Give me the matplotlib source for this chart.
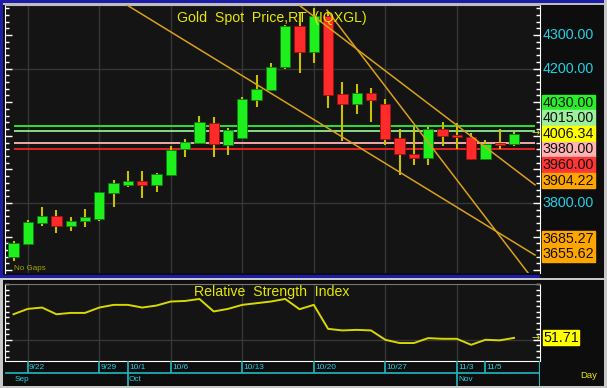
import numpy as np
import pandas as pd
import matplotlib
matplotlib.use("Agg")
import matplotlib.pyplot as plt
from matplotlib.patches import Rectangle
from matplotlib.ticker import MultipleLocator, FixedLocator
from matplotlib import font_manager

# ============================
# Data
# ============================
dates = pd.bdate_range("2025-09-19", "2025-11-07")

opens  = [3638, 3678, 3741, 3761, 3732, 3746, 3751, 3829, 3854, 3865, 3854, 3883,
          3960, 3979, 4039, 3973, 3993, 4107, 4136, 4204, 4327, 4250, 4357, 4124,
          4095, 4126, 4095, 3993, 3945, 3933, 4019, 4002, 3997, 3930, 3980, 3975]
highs  = [3688, 3749, 3789, 3779, 3759, 3782, 3834, 3868, 3895, 3895, 3890, 3970,
          3990, 4059, 4055, 4022, 4116, 4180, 4216, 4330, 4365, 4381, 4370, 4160,
          4153, 4143, 4109, 4019, 4027, 4027, 4042, 4037, 4007, 3987, 4019, 4010]
lows   = [3628, 3676, 3732, 3712, 3718, 3728, 3746, 3789, 3849, 3816, 3832, 3880,
          3936, 3976, 3938, 3943, 3990, 4087, 4133, 4198, 4186, 4218, 4084, 3986,
          4064, 4042, 3973, 3883, 3913, 3913, 3970, 3960, 3928, 3928, 3960, 3970]
closes = [3682, 3744, 3761, 3732, 3747, 3757, 3832, 3859, 3865, 3854, 3885, 3957,
          3982, 4040, 3975, 4017, 4109, 4139, 4206, 4327, 4250, 4358, 4121, 4095,
          4126, 4107, 3990, 3945, 3933, 4019, 4000, 3997, 3930, 3976, 3974, 4006.34]

rsi = [72.9, 77.7, 78.9, 72.9, 74.1, 74.1, 78.9, 81.3, 81.3, 78.9, 80.7, 84.3,
       84.8, 86.6, 75.4, 77.7, 81.3, 82.8, 84.3, 86.6, 77.4, 81.3, 59.8, 58.4,
       58.9, 58.4, 50.0, 47.1, 47.1, 51.5, 50.9, 50.9, 45.5, 50.0, 49.5, 51.71]

# horizontal price levels and their colours
level_values = [4030.00, 4015.00, 3980.00, 3960.00]
level_lines  = ["#2ee02e", "#86dc86", "#f2aaaa", "#e62020"]
level_boxes  = ["#2aee2a", "#9cf09c", "#ffb4b4", "#ff3434"]

# trend lines: (bar index, price) start and end
trend_start_x = [7.94, 21.92, 20.03]
trend_start_p = [4389, 4374, 4387]
trend_end_x   = [36.47, 35.98, 36.47]
trend_end_p   = [3645, 3592, 3854]
trend_labels  = [3655.62, 3685.27, 3904.22]

price_ticks = [3700, 3800, 3900, 4000, 4100, 4200, 4300]
day_ticks   = ["2025-09-22", "2025-09-29", "2025-10-01", "2025-10-06", "2025-10-13",
               "2025-10-20", "2025-10-27", "2025-11-03", "2025-11-05"]
month_ticks = ["2025-09-19", "2025-10-01", "2025-11-03"]
month_names = ["Sep", "Oct", "Nov"]

# ============================
# Style
# ============================
W, H = 607, 388
BG = "#141414"
GRID = "#363636"
CYAN_TXT = "#22d0e4"
CYAN_LINE = "#1fb8c0"
YELLOW = "#e6e600"

names = {f.name for f in font_manager.fontManager.ttflist}
NARROW = "Liberation Sans Narrow" if "Liberation Sans Narrow" in names else "Liberation Sans"
FS = 1.0 if NARROW == "Liberation Sans Narrow" else 0.85
LABEL_FS = 11.5 if NARROW == "Liberation Sans Narrow" else 10.3
plt.rcParams["font.family"] = [NARROW, "DejaVu Sans"]

fig = plt.figure(figsize=(W / 100, H / 100), dpi=100, facecolor="#0d0d0d")


def axes_px(x0, y0, x1, y1):
    return fig.add_axes([x0 / W, 1 - y1 / H, (x1 - x0) / W, (y1 - y0) / H])


def rect_px(x0, y0, x1, y1, color):
    fig.add_artist(Rectangle((x0 / W, 1 - y1 / H), (x1 - x0) / W, (y1 - y0) / H,
                             transform=fig.transFigure, color=color, lw=0))


def px_to_idx(x):
    return (x - 13.5) / 14.3


idx = np.arange(len(dates))
o, h, l, c = map(np.array, (opens, highs, lows, closes))
XLIM = (px_to_idx(5), px_to_idx(540))
PLIM = (3591.7, 4389.3)
RLIM = (31, 100)
mondays = idx[dates.weekday == 0]

# ============================
# Main price panel
# ============================
ax = axes_px(5, 5, 540, 273)
ax.set_facecolor(BG)
ax.set_xlim(*XLIM)
ax.set_ylim(*PLIM)

for m in mondays:
    ax.axvline(m, color=GRID, lw=1, zorder=0.5)
for g in (3800, 4200):
    ax.axhline(g, color=GRID, lw=1, zorder=0.5)

ax.hlines(level_values, idx[0], idx[-1] + 1.5, colors=level_lines, lw=1.4, zorder=1.5)

for x0, p0, x1, p1 in zip(trend_start_x, trend_start_p, trend_end_x, trend_end_p):
    ax.plot([x0, x1], [p0, p1], color="#d9a01a", lw=1.1, zorder=4)

up = c >= o
ax.vlines(idx, l, h, color="#c8c000", lw=1.5, zorder=2)
ax.bar(idx, np.maximum(np.abs(c - o), 2), bottom=np.minimum(o, c), width=0.72,
       color=np.where(up, "#1ef01e", "#ff2a2a"),
       edgecolor=np.where(up, "#0b7a0b", "#a01010"), linewidth=0.6, zorder=3)

ax.text(XLIM[1] - 0.6, c[-1], "→", color=YELLOW, fontsize=7, va="center",
        ha="left", family="DejaVu Sans", zorder=5)
ax.text(px_to_idx(14), 3596, "No Gaps", color="#a8a800", fontsize=6.8 * FS,
        ha="left", va="bottom")
ax.text(px_to_idx(272), 4352, "Gold  Spot  Price,RT  (IQXGL)", color=YELLOW,
        fontsize=12 * FS, ha="center", va="center", zorder=6)

ax.yaxis.set_major_locator(MultipleLocator(100))
ax.yaxis.set_minor_locator(MultipleLocator(20))
ax.tick_params(axis="y", which="both", direction="in", left=True, right=True,
               labelleft=False, labelright=False, colors="white", width=1)
ax.tick_params(axis="y", which="major", length=5)
ax.tick_params(axis="y", which="minor", length=3)
ax.tick_params(axis="x", length=0, labelbottom=False)
for s in ("left", "right"):
    ax.spines[s].set_color("white")
ax.spines["top"].set_color("#bdbdbd")
ax.spines["bottom"].set_visible(False)

# ============================
# Price label strip
# ============================
axl = axes_px(540, 5, 603, 273)
axl.set_facecolor("#0d0d0d")
axl.set_xlim(540, 603)
axl.set_ylim(*PLIM)
axl.axis("off")

# stack overlapping boxes around the mean of their values
box_vals = level_values + [c[-1]] + trend_labels
box_cols = level_boxes + ["#ffff00"] + ["#ffa500"] * len(trend_labels)
order = np.argsort(box_vals)[::-1]
unit_per_px = (PLIM[1] - PLIM[0]) / 268
bh = 15.6 * unit_per_px
groups = [[k] for k in order]
merged = True
while merged:
    merged = False
    for gi in range(len(groups) - 1):
        g1, g2 = groups[gi], groups[gi + 1]
        c1 = np.mean([box_vals[k] for k in g1])
        c2 = np.mean([box_vals[k] for k in g2])
        if c1 - len(g1) * bh / 2 < c2 + len(g2) * bh / 2:
            groups[gi] = g1 + g2
            del groups[gi + 1]
            merged = True
            break

spans = []
for g in groups:
    top = np.mean([box_vals[k] for k in g]) + len(g) * bh / 2
    spans.append((top - len(g) * bh, top))
    for n, k in enumerate(g):
        yc = top - (n + 0.5) * bh
        axl.add_patch(Rectangle((542, yc - bh / 2), 53, bh, color=box_cols[k], zorder=2))
        axl.text(568.5, yc, f"{box_vals[k]:.2f}", color="#111111",
                 fontsize=LABEL_FS, ha="center", va="center", zorder=3)

# cyan axis labels, only where the boxes leave room for them
half = 6 * unit_per_px
for t in price_ticks:
    hidden = any(lo < t + half and hi > t - half for lo, hi in spans)
    if not hidden:
        axl.text(568.5, t, f"{t:.2f}", color=CYAN_TXT, fontsize=LABEL_FS,
                 ha="center", va="center", zorder=1)

# ============================
# RSI panel
# ============================
ar = axes_px(5, 284, 540, 361)
ar.set_facecolor(BG)
ar.set_xlim(*XLIM)
ar.set_ylim(*RLIM)
for m in mondays:
    ar.axvline(m, color=GRID, lw=1, zorder=0.5)
ar.axhline(50, color=GRID, lw=1, zorder=0.5)
ar.plot(idx, rsi, color="#d8d800", lw=1.4, zorder=3)
ar.text(XLIM[1] - 0.6, rsi[-1], "→", color=YELLOW, fontsize=7, va="center",
        ha="left", family="DejaVu Sans", zorder=5)
ar.text(px_to_idx(272), 93, "Relative  Strength  Index", color=YELLOW,
        fontsize=12 * FS, ha="center", va="center", zorder=6)
ar.yaxis.set_major_locator(FixedLocator([50]))
ar.yaxis.set_minor_locator(MultipleLocator(5))
ar.tick_params(axis="y", which="both", direction="in", left=True, right=True,
               labelleft=False, labelright=False, colors="white", width=1)
ar.tick_params(axis="y", which="major", length=5)
ar.tick_params(axis="y", which="minor", length=3)
ar.tick_params(axis="x", length=0, labelbottom=False)
for s in ("left", "right", "bottom"):
    ar.spines[s].set_color("white")
ar.spines["top"].set_color("#777777")

arl = axes_px(540, 284, 603, 361)
arl.set_facecolor("#0d0d0d")
arl.set_xlim(540, 603)
arl.set_ylim(*RLIM)
arl.axis("off")
rbh = 15 * (RLIM[1] - RLIM[0]) / 77
arl.add_patch(Rectangle((543, rsi[-1] - rbh / 2), 36, rbh, color="#ffff00"))
arl.text(561, rsi[-1], f"{rsi[-1]:.2f}", color="#111111", fontsize=LABEL_FS,
         ha="center", va="center")

# ============================
# Date band
# ============================
ad = axes_px(5, 361, 540, 386)
ad.set_facecolor("#0d0d0d")
ad.set_xlim(*XLIM)
ad.set_ylim(0, 25)
ad.axis("off")
ad.axhline(13, color=CYAN_LINE, lw=1.2)
ad.axvline(XLIM[1], color=CYAN_LINE, lw=1.5)
day_idx = [dates.get_loc(pd.Timestamp(d)) for d in day_ticks]
ad.vlines(day_idx, 13, 25, color=CYAN_LINE, lw=1.2)
for i in day_idx:
    ad.text(i + 0.08, 18.5, f"{dates[i].month}/{dates[i].day}", color=CYAN_TXT,
            fontsize=7 * FS, ha="left", va="center")
month_idx = [dates.get_loc(pd.Timestamp(d)) for d in month_ticks]
ad.vlines(month_idx[1:], 0, 13, color=CYAN_LINE, lw=1.2)
for i, name in zip(month_idx, month_names):
    ad.text(i + 0.08, 6.5, name, color=CYAN_TXT, fontsize=7 * FS,
            ha="left", va="center")

fig.text(589 / W, 1 - 375 / H, "Day", color=YELLOW, fontsize=8 * FS,
         ha="center", va="center")

# ============================
# Window borders
# ============================
rect_px(0, 0, W, 3, "#1c1ca8")
rect_px(0, 3, W, 4.5, "#bdbdbd")
rect_px(0, 0, 3, 276, "#1c1ca8")
rect_px(0, 274.5, 540, 277.5, "#1c1ca8")
rect_px(0, 277.5, W, 280, "#c8c8c8")
rect_px(0, 386, W, H, "#c8c8c8")
rect_px(604, 0, W, H, "#c8c8c8")
rect_px(0, 280, 3, 386, "#c8c8c8")

fig.savefig("out.png", dpi=100, facecolor=fig.get_facecolor())
